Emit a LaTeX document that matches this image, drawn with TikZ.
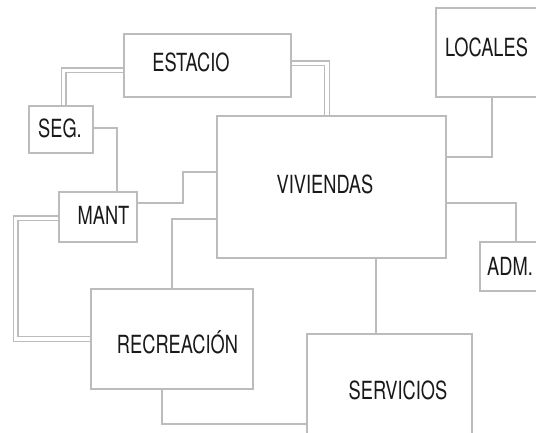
\documentclass[tikz,border=0pt]{standalone}
\usepackage{fontspec}
\newfontfamily\condfont{TeX Gyre Heros}[FakeStretch=0.73]
\definecolor{linegray}{RGB}{188,188,188}
\definecolor{txtgray}{RGB}{25,25,25}
\tikzset{
  box/.style={draw=linegray, line width=1.2pt, rectangle, inner sep=0pt},
  lbl/.style={font=\condfont\fontsize{25}{26}\selectfont, text=txtgray, inner sep=0pt},
  conn/.style={draw=linegray, line width=1.2pt},
  dconn/.style={draw=linegray, line width=1.2pt, double=white, double distance=3.6pt},
}
\begin{document}
\begin{tikzpicture}[x=1pt,y=-1pt]
\useasboundingbox (0,0) rectangle (536,433);
\fill[white] (0,0) rectangle (536,433);
\clip (0,0) rectangle (536,433);
% boxes
\node[box, minimum width=167pt, minimum height=63pt] (est) at (207.5,65.5) {};
\node[box, minimum width=109pt, minimum height=89pt] (loc) at (490.5,52.5) {};
\node[box, minimum width=64pt, minimum height=47pt] (seg) at (61,129.5) {};
\node[box, minimum width=78pt, minimum height=50pt] (mant) at (98,217) {};
\node[box, minimum width=229pt, minimum height=142pt] (viv) at (331.5,187) {};
\node[box, minimum width=65pt, minimum height=49pt] (adm) at (512.5,266.5) {};
\node[box, minimum width=162pt, minimum height=100pt] (rec) at (172,339) {};
\node[box, minimum width=165pt, minimum height=111pt] (serv) at (389.5,389.5) {};
% labels
\node[lbl] (testa) at (191,62.5) {ESTACIO};
\node[lbl] (tloc) at (486.5,47) {LOCALES};
\node[lbl] (tseg) at (60,128.5) {SEG.};
\node[lbl] (tmant) at (103.5,215) {MANT};
\node[lbl] (tviv) at (325,184) {VIVIENDAS};
\node[lbl, anchor=west] (tadm) at (487,266) {ADM.};
\node[lbl] (trec) at (177.5,342) {RECREACIÓN};
\node[lbl] (tserv) at (398,390) {SERVICIOS};
% double connectors
\draw[dconn] (est.west |- 0,70.5) -| (63.5,0 |- seg.north);
\draw[dconn] (est.east |- 0,63.5) -| (327,0 |- viv.north);
\draw[dconn] (mant.west |- 0,218.5) -| (15.5,339) -- (rec.west |- 0,339);
% single connectors
\draw[conn] (seg.east |- 0,128) -| (117,0 |- mant.north);
\draw[conn] (mant.east |- 0,203) -| (183,172) -- (viv.west |- 0,172);
\draw[conn] (492,0 |- loc.south) |- (viv.east |- 0,157);
\draw[conn] (viv.east |- 0,203) -| (516,0 |- adm.north);
\draw[conn] (172,0 |- rec.north) |- (viv.west |- 0,219);
\draw[conn] (162,0 |- rec.south) |- (serv.west |- 0,424);
\draw[conn] (376,0 |- viv.south) -- (376,0 |- serv.north);
\end{tikzpicture}
\end{document}
